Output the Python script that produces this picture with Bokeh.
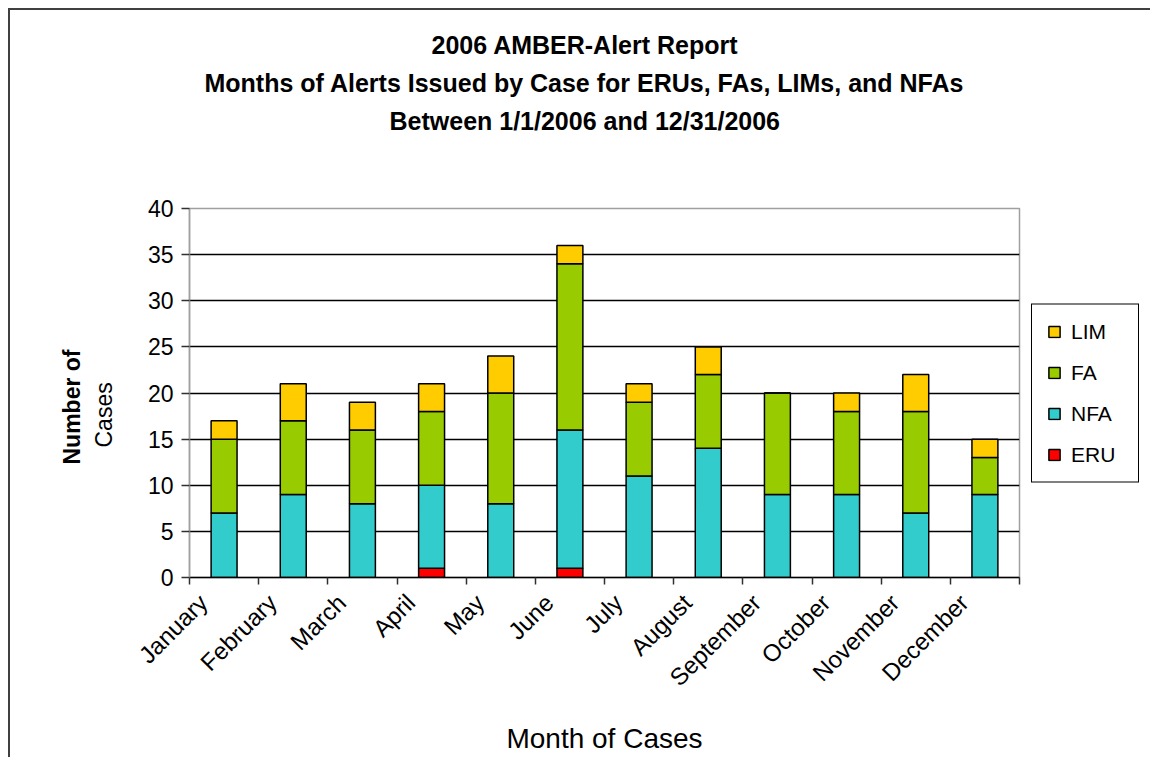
import math
from bokeh.plotting import figure
from bokeh.models import (Range1d, FixedTicker, LinearAxis, Title, Legend, LegendItem,
                          ColumnDataSource, Grid)
from bokeh.embed import file_html
from bokeh.resources import INLINE

months = ["January", "February", "March", "April", "May", "June", "July",
          "August", "September", "October", "November", "December"]
eru = [0, 0, 0, 1, 0, 1, 0, 0, 0, 0, 0, 0]
nfa = [7, 9, 8, 9, 8, 15, 11, 14, 9, 9, 7, 9]
fa = [8, 8, 8, 8, 12, 18, 8, 8, 11, 9, 11, 4]
lim = [2, 4, 3, 3, 4, 2, 2, 3, 0, 2, 4, 2]
series = ["ERU", "NFA", "FA", "LIM"]
colors = ["#FF0000", "#33CCCC", "#99CC00", "#FFCC00"]
y_ticks = [0, 5, 10, 15, 20, 25, 30, 35, 40]
title_lines = ["2006 AMBER-Alert Report",
               "Months of Alerts Issued by Case for ERUs, FAs, LIMs, and NFAs",
               "Between 1/1/2006 and 12/31/2006"]

FONT = "Liberation Sans"
xs = [i + 0.5 for i in range(len(months))]
src = ColumnDataSource(dict(x=xs, ERU=eru, NFA=nfa, FA=fa, LIM=lim))

p = figure(frame_width=830, frame_height=369, output_backend="svg", toolbar_location=None,
           x_range=Range1d(0, len(months)), y_range=Range1d(0, 40),
           x_axis_location=None, y_axis_location=None,
           min_border_left=179, min_border_right=124, min_border_top=198,
           min_border_bottom=180,
           styles={"margin-left": "8px", "margin-top": "8px",
                   "border-left": "2px solid #404040", "border-top": "2px solid #404040"})
p.outline_line_color = "#a0a0a0"
p.outline_line_width = 1.5
p.background_fill_color = "white"
p.border_fill_color = "white"

renderers = p.vbar_stack(series, x="x", width=0.375, source=src, color=colors,
                         line_color="black", line_width=1.5)

# y axis
yax = LinearAxis(ticker=FixedTicker(ticks=y_ticks))
yax.axis_line_color = "#a0a0a0"
yax.axis_line_width = 1.5
yax.major_tick_out = 8
yax.major_tick_in = 0
yax.major_tick_line_color = "#303030"
yax.major_tick_line_width = 1.5
yax.minor_tick_line_color = None
yax.major_label_text_font = FONT
yax.major_label_text_font_size = "23px"
yax.major_label_text_color = "black"
yax.major_label_standoff = 8
p.add_layout(yax, "left")

# x axis: tick marks at category boundaries
xax = LinearAxis(ticker=FixedTicker(ticks=list(range(len(months) + 1))))
xax.major_label_overrides = {i: "" for i in range(len(months) + 1)}
xax.major_label_text_font_size = "1px"
xax.major_label_standoff = 0
xax.axis_line_color = "black"
xax.axis_line_width = 1.5
xax.major_tick_out = 7
xax.major_tick_in = 0
xax.major_tick_line_color = "#303030"
xax.major_tick_line_width = 1.5
xax.minor_tick_line_color = None
p.add_layout(xax, "below")

# x axis: month labels
label_pos = [x - 0.3 for x in xs]
lax = LinearAxis(ticker=FixedTicker(ticks=label_pos))
lax.major_label_overrides = {lp: m for lp, m in zip(label_pos, months)}
lax.major_label_orientation = math.pi / 4
lax.major_label_text_font = FONT
lax.major_label_text_font_size = "24px"
lax.major_label_text_color = "black"
lax.major_label_standoff = 8
lax.axis_line_color = None
lax.major_tick_line_color = None
lax.minor_tick_line_color = None
lax.axis_label = "Month of Cases"
lax.axis_label_text_font = FONT
lax.axis_label_text_font_size = "28px"
lax.axis_label_text_font_style = "normal"
lax.axis_label_text_color = "black"
lax.axis_label_standoff = 19
p.add_layout(lax, "below")

p.ygrid.grid_line_color = None
p.xgrid.grid_line_color = None
g = Grid(dimension=1, ticker=FixedTicker(ticks=y_ticks[1:-1]))
g.grid_line_color = "black"
g.grid_line_width = 1.5
p.add_layout(g)

# spacer between frame and the title block
p.add_layout(Title(text=" ", text_font_size="45px", standoff=17), "above")
# titles (bottom line first so it sits closest to the frame)
title_offsets = [242, 15, 200]
for line, off in reversed(list(zip(title_lines, title_offsets))):
    t = Title(text=line, align="left", text_font=FONT, text_font_size="25px",
              text_font_style="bold", text_color="black", standoff=8, offset=off)
    p.add_layout(t, "above")

# y axis title in two lines (spacer first, next to the axis)
p.add_layout(Title(text=" ", text_font_size="1px", standoff=25), "left")
p.add_layout(Title(text="Cases", align="left", offset=130, text_font=FONT,
                   text_font_size="23px", text_font_style="normal", text_color="black",
                   standoff=0), "left")
p.add_layout(Title(text="Number of", align="left", offset=113, text_font=FONT,
                   text_font_size="23px", text_font_style="bold", text_color="black",
                   standoff=8), "left")

items = [LegendItem(label=name, renderers=[r]) for name, r in zip(series, renderers)]
legend = Legend(items=list(reversed(items)), location="center_left")
legend.label_text_font = FONT
legend.label_text_font_size = "21px"
legend.label_text_color = "black"
legend.glyph_width = 14
legend.glyph_height = 14
legend.label_height = 20
legend.label_width = 52
legend.label_standoff = 10
legend.spacing = 17
legend.padding = 15
legend.margin = 12
legend.border_line_color = "black"
legend.border_line_width = 1.5
legend.border_line_alpha = 1.0
legend.background_fill_color = "white"
legend.background_fill_alpha = 1
p.add_layout(legend, "right")

open("out.html", "w").write(file_html(p, INLINE))
